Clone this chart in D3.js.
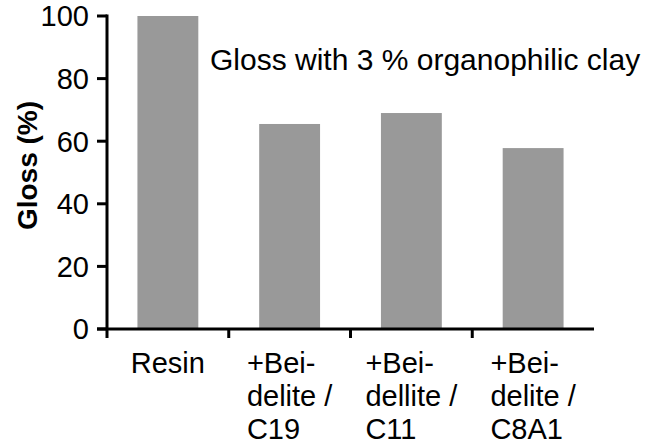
<head>
  <script src="https://d3js.org/d3.v7.min.js"></script>
</head>
<style>
  body { margin: 0; background: #fff; }
  text { font-family: "Liberation Sans", Arial, sans-serif; fill: #000; }
</style>
<body>
  <svg id="svg_bar"></svg>
</body>
<script>
  var w = 651;
  var h = 444;
  var margin = {top: 16, right: 57, bottom: 115, left: 107};

  // data
  var categories = ["Resin", "C19", "C11", "C8A1"];
  var gloss = [100, 65.5, 69, 57.8];
  var catLabels = [
    ["Resin"],
    ["+Bei-", "delite /", "C19"],
    ["+Bei-", "dellite /", "C11"],
    ["+Bei-", "delite /", "C8A1"]
  ];
  var yTicks = [0, 20, 40, 60, 80, 100];
  var title = "Gloss with 3 % organophilic clay";

  var svg = d3.select("svg#svg_bar")
      .attr("width", w)
      .attr("height", h);

  var x = d3.scaleBand()
      .domain(categories)
      .range([margin.left, w - margin.right])
      .paddingInner(0.5)
      .paddingOuter(0.25);

  var y = d3.scaleLinear()
      .domain([0, 100])
      .range([h - margin.bottom, margin.top]);

  var y0 = y(0);

  // bars
  svg.selectAll("rect.bar")
      .data(gloss)
      .enter().append("rect")
      .attr("class", "bar")
      .attr("x", function(d, i){ return x(categories[i]); })
      .attr("width", x.bandwidth())
      .attr("y", function(d){ return y(d); })
      .attr("height", function(d){ return y0 - y(d); })
      .style("fill", "#999999");

  // y axis
  var yAxis = svg.append("g").attr("class", "yaxis");
  yAxis.append("line")
      .attr("x1", margin.left).attr("x2", margin.left)
      .attr("y1", y(100) - 1.5).attr("y2", y0 + 9)
      .style("stroke", "#000").style("stroke-width", 3);
  yAxis.selectAll("line.tick")
      .data(yTicks)
      .enter().append("line")
      .attr("class", "tick")
      .attr("x1", margin.left - 10).attr("x2", margin.left)
      .attr("y1", function(d){ return y(d); })
      .attr("y2", function(d){ return y(d); })
      .style("stroke", "#000").style("stroke-width", 3);
  yAxis.selectAll("text")
      .data(yTicks)
      .enter().append("text")
      .attr("x", margin.left - 18)
      .attr("y", function(d){ return y(d); })
      .attr("dy", "0.36em")
      .attr("text-anchor", "end")
      .style("font-size", "29px")
      .text(function(d){ return d; });

  // x axis
  var step = x.step();
  var xAxis = svg.append("g").attr("class", "xaxis");
  xAxis.append("line")
      .attr("x1", margin.left - 10).attr("x2", w - margin.right)
      .attr("y1", y0).attr("y2", y0)
      .style("stroke", "#000").style("stroke-width", 3);
  xAxis.selectAll("line.tick")
      .data(categories.slice(1))
      .enter().append("line")
      .attr("class", "tick")
      .attr("x1", function(d){ return x(d) - x.paddingInner() * step / 2; })
      .attr("x2", function(d){ return x(d) - x.paddingInner() * step / 2; })
      .attr("y1", y0).attr("y2", y0 + 9)
      .style("stroke", "#000").style("stroke-width", 3);

  // category labels: lines left aligned, block centred on the bar
  categories.forEach(function(c, i){
    var cx = x(c) + x.bandwidth() / 2;
    var t = xAxis.append("text")
        .attr("y", y0 + 44)
        .style("font-size", "29px");
    catLabels[i].forEach(function(line, j){
      t.append("tspan")
          .attr("dy", j ? 33 : 0)
          .text(line);
    });
    var maxw = 0;
    t.selectAll("tspan").each(function(){
      maxw = Math.max(maxw, this.getComputedTextLength());
    });
    t.selectAll("tspan").attr("x", cx - maxw / 2);
  });

  // y label
  svg.append("text")
      .attr("transform", "translate(37," + ((y(100) + y0) / 2 - 7) + ") rotate(-90)")
      .attr("text-anchor", "middle")
      .style("font-size", "28px")
      .style("font-weight", "bold")
      .text("Gloss (%)");

  // title
  svg.append("text")
      .attr("x", 210)
      .attr("y", 70)
      .style("font-size", "30px")
      .text(title);
</script>
